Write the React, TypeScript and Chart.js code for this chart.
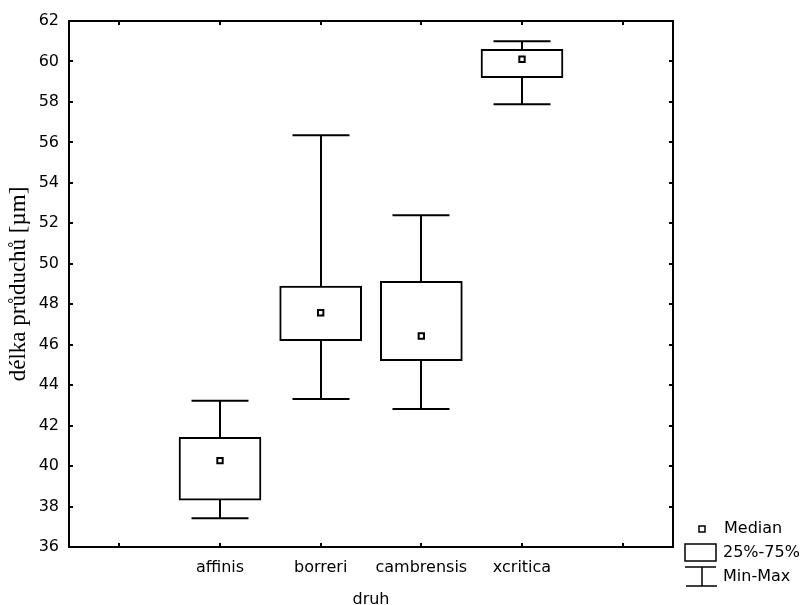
import React, { useEffect, useRef } from "react";
import { Chart, registerables } from "chart.js";

Chart.register(...registerables);

const categories = ["", "affinis", "borreri", "cambrensis", "xcritica", ""];
const minValues = [null, 37.42, 43.32, 42.82, 57.88, null];
const q1Values = [null, 38.32, 46.2, 45.21, 59.2, null];
const medianValues = [null, 40.27, 47.58, 46.43, 60.11, null];
const q3Values = [null, 41.42, 48.9, 49.13, 60.6, null];
const maxValues = [null, 43.23, 56.35, 52.4, 61.0, null];
const yMin = 36;
const yMax = 62;
const yStep = 2;
const yTitle = "délka průduchů [µm]";
const xTitle = "druh";
const legendLabels = ["Median", "25%-75%", "Min-Max"];

const SANS = "'DejaVu Sans', 'Liberation Sans', Arial, sans-serif";
const SERIF = "'Liberation Serif', 'Times New Roman', serif";

const boxPlugin = {
  id: "boxDecor",
  beforeDatasetsDraw(chart: any) {
    const { ctx, scales } = chart;
    const x = scales.x;
    const y = scales.y;
    ctx.save();
    ctx.strokeStyle = "#000";
    ctx.lineWidth = 2;
    ctx.lineCap = "butt";
    const capHalf = 28.5;
    for (let i = 0; i < categories.length; i++) {
      if (minValues[i] == null) continue;
      const cx = Math.round(x.getPixelForValue(i));
      const pMin = y.getPixelForValue(minValues[i]);
      const pMax = y.getPixelForValue(maxValues[i]);
      const pQ1 = y.getPixelForValue(q1Values[i]);
      const pQ3 = y.getPixelForValue(q3Values[i]);
      ctx.beginPath();
      ctx.moveTo(cx, pQ3);
      ctx.lineTo(cx, pMax);
      ctx.moveTo(cx - capHalf, pMax);
      ctx.lineTo(cx + capHalf, pMax);
      ctx.moveTo(cx, pQ1);
      ctx.lineTo(cx, pMin);
      ctx.moveTo(cx - capHalf, pMin);
      ctx.lineTo(cx + capHalf, pMin);
      ctx.stroke();
    }
    ctx.restore();
  },
  afterDraw(chart: any) {
    const { ctx, chartArea, scales } = chart;
    const { left, right, top, bottom } = chartArea;
    const x = scales.x;
    const y = scales.y;
    ctx.save();
    ctx.strokeStyle = "#000";
    ctx.lineWidth = 2;
    ctx.strokeRect(left, top, right - left, bottom - top);
    const tl = 4;
    ctx.beginPath();
    y.ticks.forEach((_t: any, i: number) => {
      const py = Math.round(y.getPixelForTick(i));
      ctx.moveTo(left, py);
      ctx.lineTo(left + tl, py);
      ctx.moveTo(right, py);
      ctx.lineTo(right - tl, py);
    });
    x.ticks.forEach((_t: any, i: number) => {
      const px = Math.round(x.getPixelForTick(i));
      ctx.moveTo(px, top);
      ctx.lineTo(px, top + tl);
      ctx.moveTo(px, bottom);
      ctx.lineTo(px, bottom - tl);
    });
    ctx.stroke();

    // legend
    const lx = right + 12;
    const ly = bottom - 18;
    ctx.lineWidth = 1.5;
    ctx.fillStyle = "#fff";
    ctx.fillRect(lx + 14, ly - 3, 6, 6);
    ctx.strokeRect(lx + 14, ly - 3, 6, 6);
    ctx.strokeRect(lx, ly + 15, 31, 17);
    ctx.beginPath();
    ctx.moveTo(lx, ly + 38);
    ctx.lineTo(lx + 31, ly + 38);
    ctx.moveTo(lx + 17, ly + 38);
    ctx.lineTo(lx + 17, ly + 57);
    ctx.moveTo(lx + 1, ly + 57);
    ctx.lineTo(lx + 32, ly + 57);
    ctx.stroke();
    ctx.fillStyle = "#000";
    ctx.font = `16px ${SANS}`;
    ctx.textBaseline = "middle";
    ctx.textAlign = "left";
    ctx.fillText(legendLabels[0], lx + 39, ly);
    ctx.fillText(legendLabels[1], lx + 38, ly + 24);
    ctx.fillText(legendLabels[2], lx + 38, ly + 48);
    ctx.restore();
  },
};

export default function App() {
  const ref = useRef<HTMLCanvasElement>(null);
  useEffect(() => {
    if (!ref.current) return;
    const boxData = q1Values.map((q, i) => (q == null ? null : [q, q3Values[i] as number]));
    const chart = new Chart(ref.current, {
      type: "bar",
      data: {
        labels: categories,
        datasets: [
          {
            type: "bar",
            order: 2,
            data: boxData as any,
            backgroundColor: "#fff",
            borderColor: "#000",
            borderWidth: 2,
            borderSkipped: false,
            barThickness: 82,
            grouped: false,
          } as any,
          {
            type: "line",
            order: 1,
            data: medianValues as any,
            showLine: false,
            pointStyle: "rect",
            pointRadius: 3.8,
            pointBorderWidth: 2,
            pointBackgroundColor: "#fff",
            pointBorderColor: "#000",
          } as any,
        ],
      },
      options: {
        responsive: false,
        animation: false,
        events: [],
        layout: { padding: { top: 21, right: 130, bottom: 0, left: 0 } },
        plugins: { legend: { display: false }, tooltip: { enabled: false } },
        scales: {
          x: {
            type: "category",
            offset: true,
            grid: { display: false, drawTicks: false },
            border: { display: false },
            ticks: {
              color: "#000",
              font: { family: SANS, size: 16 },
              padding: 11,
              maxRotation: 0,
              autoSkip: false,
            },
            title: {
              display: true,
              text: xTitle,
              color: "#000",
              font: { family: SANS, size: 16, lineHeight: 0.7 },
              padding: { top: 0, bottom: 0 },
            },
            afterFit: (s: any) => {
              s.height = 58;
            },
          },
          y: {
            min: yMin,
            max: yMax,
            grid: { display: false, drawTicks: false },
            border: { display: false },
            ticks: {
              stepSize: yStep,
              color: "#000",
              font: { family: SANS, size: 16 },
              padding: 10,
            },
            title: {
              display: true,
              text: yTitle,
              color: "#000",
              font: { family: SERIF, size: 23 },
              padding: { top: 5, bottom: 4 },
            },
            afterFit: (s: any) => {
              s.width = 69;
            },
          },
        },
      },
      plugins: [boxPlugin],
    });
    return () => chart.destroy();
  }, []);
  return (
    <div style={{ position: "absolute", left: 0, top: 0, width: 803, height: 605, background: "#fff" }}>
      <canvas ref={ref} width={803} height={605} style={{ display: "block" }} />
    </div>
  );
}
